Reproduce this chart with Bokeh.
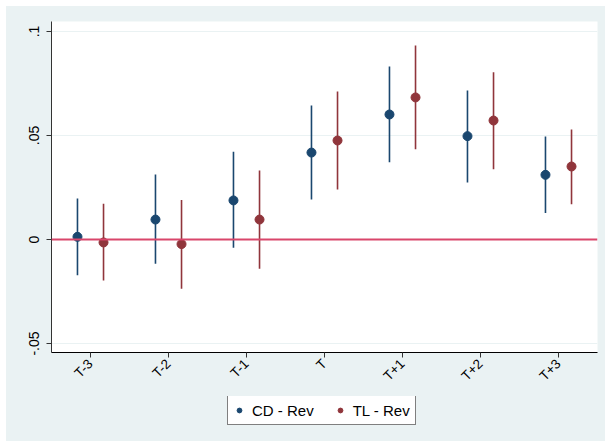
from bokeh.plotting import figure
from bokeh.layouts import column
from bokeh.models import (ColumnDataSource, FactorRange, Range1d, FixedTicker,
                          Span, Legend, LegendItem)
from bokeh.transform import dodge
from bokeh.embed import file_html
from bokeh.resources import INLINE

# ---- data ----
periods = ["T-3", "T-2", "T-1", "T", "T+1", "T+2", "T+3"]

cd_est = [0.0013, 0.0096, 0.0188, 0.0418, 0.0601, 0.0497, 0.0311]
cd_lo = [-0.0172, -0.0117, -0.0040, 0.0192, 0.0372, 0.0274, 0.0127]
cd_hi = [0.0197, 0.0312, 0.0422, 0.0644, 0.0832, 0.0716, 0.0495]

tl_est = [-0.0014, -0.0022, 0.0096, 0.0476, 0.0683, 0.0572, 0.0351]
tl_lo = [-0.0197, -0.0236, -0.0140, 0.0240, 0.0434, 0.0338, 0.0170]
tl_hi = [0.0172, 0.0190, 0.0332, 0.0712, 0.0933, 0.0804, 0.0529]

y_ticks = [-0.05, 0.0, 0.05, 0.1]
y_tick_labels = ["-.05", "0", ".05", ".1"]

series_names = ["CD - Rev", "TL - Rev"]

# ---- styling ----
BG = "#eaf2f3"
CD_COL = "#1a476f"
TL_COL = "#90353b"
FONT = "Liberation Sans"

cd_src = ColumnDataSource(dict(x=periods, est=cd_est, lo=cd_lo, hi=cd_hi))
tl_src = ColumnDataSource(dict(x=periods, est=tl_est, lo=tl_lo, hi=tl_hi))

# ---------------- main plot ----------------
p = figure(width=599, height=390, output_backend="svg", toolbar_location=None,
           x_range=FactorRange(*periods, range_padding=0),
           y_range=Range1d(-0.0543, 0.1048))
p.min_border_left = 45
p.min_border_right = 8
p.min_border_top = 15
p.min_border_bottom = 44
p.background_fill_color = "white"
p.border_fill_color = BG
p.outline_line_color = None

p.xgrid.grid_line_color = None
p.ygrid.ticker = FixedTicker(ticks=y_ticks)
p.ygrid.grid_line_color = BG
p.ygrid.grid_line_width = 1

p.yaxis.ticker = FixedTicker(ticks=y_ticks)
p.yaxis.major_label_overrides = {t: l for t, l in zip(y_ticks, y_tick_labels)}
p.yaxis.major_label_orientation = "vertical"
p.yaxis.minor_tick_line_color = None
p.yaxis.major_tick_in = 0
p.yaxis.major_tick_out = 5
p.yaxis.major_label_standoff = 7
p.yaxis.axis_line_color = "#333333"
p.yaxis.major_tick_line_color = "#333333"
p.yaxis.major_label_text_font_size = "14px"

p.xaxis.major_label_orientation = 0.7854
p.xaxis.major_tick_in = 0
p.xaxis.major_tick_out = 5
p.xaxis.major_label_standoff = 4
p.xaxis.axis_line_color = "black"
p.xaxis.major_tick_line_color = "#333333"
p.xaxis.major_label_text_font_size = "13.5px"

for ax in (p.xaxis, p.yaxis):
    ax.major_label_text_font = FONT
    ax.major_label_text_color = "black"
    ax.axis_line_width = 1

p.add_layout(Span(location=0, dimension="width", line_color="#d9466b", line_width=2))

cd_x = dodge("x", -0.167, range=p.x_range)
tl_x = dodge("x", 0.167, range=p.x_range)

p.segment(x0=cd_x, y0="lo", x1=cd_x, y1="hi", source=cd_src, line_color=CD_COL, line_width=1.6)
p.segment(x0=tl_x, y0="lo", x1=tl_x, y1="hi", source=tl_src, line_color=TL_COL, line_width=1.6)
p.scatter(x=cd_x, y="est", source=cd_src, size=9, fill_color=CD_COL, line_color=CD_COL)
p.scatter(x=tl_x, y="est", source=tl_src, size=9, fill_color=TL_COL, line_color=TL_COL)

# ---------------- legend strip ----------------
q = figure(width=599, height=45, output_backend="svg", toolbar_location=None,
           x_range=FactorRange(*periods), y_range=Range1d(10, 11),
           x_axis_type=None, y_axis_type=None)
q.min_border = 0
q.background_fill_color = BG
q.border_fill_color = BG
q.outline_line_color = None
q.xgrid.grid_line_color = None
q.ygrid.grid_line_color = None
# same data, outside this strip's visible range: only used for legend glyphs
l_cd = q.scatter(x="x", y="est", source=cd_src, size=9, fill_color=CD_COL, line_color=CD_COL)
l_tl = q.scatter(x="x", y="est", source=tl_src, size=9, fill_color=TL_COL, line_color=TL_COL)

legend = Legend(items=[LegendItem(label=series_names[0], renderers=[l_cd]),
                       LegendItem(label=series_names[1], renderers=[l_tl])],
                orientation="horizontal", location=(176, 16))
legend.background_fill_color = "white"
legend.background_fill_alpha = 1
legend.border_line_color = "black"
legend.border_line_width = 1
legend.label_text_font = FONT
legend.label_text_font_size = "15px"
legend.label_text_color = "black"
legend.glyph_width = 12
legend.glyph_height = 12
legend.label_standoff = 7
legend.label_height = 18
legend.padding = 5
legend.spacing = 20
legend.margin = 0
q.add_layout(legend, "center")

layout = column(p, q, spacing=0)
layout.margin = (6, 0, 0, 6)
layout.styles = {"background-color": BG}

open("out.html", "w").write(file_html(layout, INLINE))
